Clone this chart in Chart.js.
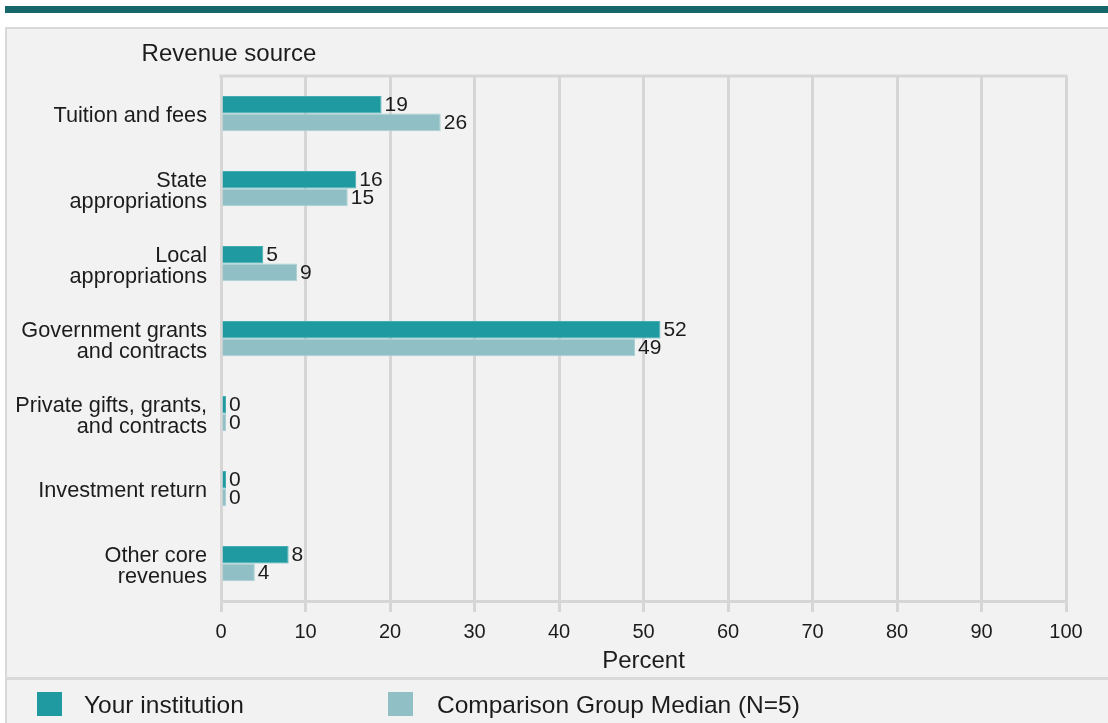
<!DOCTYPE html>
<html>
<head>
<meta charset="utf-8">
<title>Revenue sources</title>
<script src="https://cdn.jsdelivr.net/npm/chart.js@4/dist/chart.umd.min.js"></script>
<style>
  html, body { margin: 0; padding: 0; background: #ffffff; }
  #wrap { position: relative; width: 1108px; height: 723px; }
  canvas { position: absolute; left: 0; top: 0; }
</style>
</head>
<body>
<div id="wrap"><canvas id="chart" width="1108" height="723"></canvas></div>
<script>
// Revenue sources, percent of core revenues
const categories = [
  ['Tuition and fees'],
  ['State', 'appropriations'],
  ['Local', 'appropriations'],
  ['Government grants', 'and contracts'],
  ['Private gifts, grants,', 'and contracts'],
  ['Investment return'],
  ['Other core', 'revenues']
];
const institutionValues = [19, 16, 5, 52, 0, 0, 8];
const comparisonValues = [26, 15, 9, 49, 0, 0, 4];
const seriesNames = ['Your institution', 'Comparison Group Median (N=5)'];
const xTicks = [0, 10, 20, 30, 40, 50, 60, 70, 80, 90, 100];

const FONT = '"Liberation Sans", Arial, Helvetica, sans-serif';
const TEXT = '#1c1c1c';
const GRID = '#d6d6d6';
const TEAL = '#1e9aa0';
const LIGHT = '#90c0c6';

// Page frame: header rule, grey panel, legend separator, legend
const framePlugin = {
  id: 'frame',
  beforeDraw(chart) {
    const ctx = chart.ctx;
    ctx.save();
    ctx.fillStyle = '#ffffff';
    ctx.fillRect(0, 0, chart.width, chart.height);
    ctx.fillStyle = '#17666a';
    ctx.fillRect(5, 6, chart.width - 5, 7);
    ctx.fillStyle = '#f2f2f2';
    ctx.fillRect(6, 28, chart.width - 6, chart.height - 28);
    ctx.fillStyle = '#d9d9d9';
    ctx.fillRect(6, 27, chart.width - 6, 2);
    ctx.fillRect(5, 27, 2, chart.height - 27);
    ctx.fillRect(6, 677, chart.width - 6, 3);
    // top edge of the plot area
    const a = chart.chartArea;
    ctx.fillStyle = GRID;
    ctx.fillRect(a.left - 1.5, a.top - 1.5, a.right - a.left + 3, 3);
    // y axis heading
    ctx.fillStyle = TEXT;
    ctx.font = '24px ' + FONT;
    ctx.textAlign = 'center';
    ctx.textBaseline = 'middle';
    ctx.fillText('Revenue source', 229, 54);
    ctx.restore();
  },
  afterDraw(chart) {
    const ctx = chart.ctx;
    const starts = [[37, 84], [388, 437]];
    ctx.save();
    chart.data.datasets.forEach((ds, i) => {
      const [bx, tx] = starts[i];
      ctx.fillStyle = ds.backgroundColor;
      ctx.fillRect(bx, 692, 25, 24);
      ctx.fillStyle = TEXT;
      ctx.font = '24.5px ' + FONT;
      ctx.textAlign = 'left';
      ctx.textBaseline = 'middle';
      ctx.fillText(ds.label, tx, 706);
    });
    ctx.restore();
  }
};

// Value printed just past the end of each bar
const valueLabels = {
  id: 'valueLabels',
  afterDatasetsDraw(chart) {
    const ctx = chart.ctx;
    ctx.save();
    ctx.fillStyle = TEXT;
    ctx.font = '21px ' + FONT;
    ctx.textAlign = 'left';
    ctx.textBaseline = 'middle';
    chart.data.datasets.forEach((ds, di) => {
      const meta = chart.getDatasetMeta(di);
      meta.data.forEach((bar, i) => {
        const end = Math.max(bar.x, bar.base);
        ctx.fillText(String(ds.data[i]), end + 3, bar.y + 1);
      });
    });
    ctx.restore();
  }
};

new Chart(document.getElementById('chart'), {
  type: 'bar',
  data: {
    labels: categories,
    datasets: [
      {
        label: seriesNames[0],
        data: institutionValues,
        backgroundColor: TEAL,
        borderColor: '#46adb2',
        borderWidth: 1,
        minBarLength: 5
      },
      {
        label: seriesNames[1],
        data: comparisonValues,
        backgroundColor: LIGHT,
        borderColor: '#a9d0d4',
        borderWidth: 1,
        minBarLength: 5
      }
    ]
  },
  options: {
    indexAxis: 'y',
    responsive: false,
    animation: false,
    devicePixelRatio: 1,
    categoryPercentage: 0.47,
    barPercentage: 1,
    layout: { padding: { top: 76, right: 42, left: 0, bottom: 47 } },
    plugins: {
      legend: { display: false },
      tooltip: { enabled: false },
      title: { display: false }
    },
    scales: {
      x: {
        type: 'linear',
        min: 0,
        max: 100,
        afterBuildTicks(scale) { scale.ticks = xTicks.map(v => ({ value: v })); },
        afterFit(scale) { scale.height = 75; },
        grid: { color: GRID, lineWidth: 3, tickLength: 11, drawOnChartArea: true },
        border: { display: true, color: GRID, width: 3 },
        ticks: { color: TEXT, font: { family: FONT, size: 20 }, padding: 8, maxRotation: 0 },
        title: {
          display: true,
          text: 'Percent',
          color: TEXT,
          font: { family: FONT, size: 24 },
          padding: { top: 0, bottom: 0 }
        }
      },
      y: {
        afterFit(scale) { scale.width = 221; },
        grid: { display: false, drawTicks: false },
        border: { display: true, color: GRID, width: 3 },
        ticks: {
          color: TEXT,
          font: { family: FONT, size: 21.7, lineHeight: 1.0 },
          padding: 14,
          labelOffset: 3,
          crossAlign: 'near'
        }
      }
    }
  },
  plugins: [framePlugin, valueLabels]
});
</script>
</body>
</html>
